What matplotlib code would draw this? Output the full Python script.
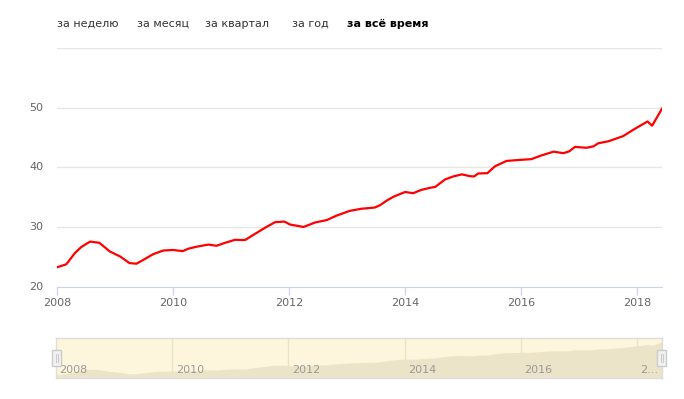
import matplotlib
matplotlib.use("Agg")
import matplotlib.pyplot as plt
import matplotlib.transforms as mtransforms
from matplotlib.patches import Rectangle
from matplotlib.lines import Line2D

# data (fractional year, value)
years = [2008.00, 2008.16, 2008.31, 2008.42, 2008.57, 2008.73, 2008.91, 2009.09,
         2009.25, 2009.37, 2009.49, 2009.66, 2009.83, 2010.00, 2010.17, 2010.26,
         2010.41, 2010.61, 2010.75, 2010.90, 2011.07, 2011.24, 2011.44, 2011.61,
         2011.76, 2011.92, 2012.02, 2012.25, 2012.45, 2012.65, 2012.82, 2013.05,
         2013.25, 2013.48, 2013.57, 2013.69, 2013.80, 2014.00, 2014.14, 2014.28,
         2014.43, 2014.52, 2014.69, 2014.83, 2014.98, 2015.12, 2015.19, 2015.26,
         2015.42, 2015.55, 2015.75, 2015.95, 2016.18, 2016.33, 2016.56, 2016.73,
         2016.83, 2016.93, 2017.13, 2017.25, 2017.33, 2017.51, 2017.76, 2017.94,
         2018.18, 2018.26, 2018.43]
values = [23.3, 23.8, 25.7, 26.7, 27.6, 27.4, 25.95, 25.1,
          24.0, 23.9, 24.55, 25.5, 26.1, 26.2, 26.0, 26.4,
          26.75, 27.1, 26.9, 27.4, 27.9, 27.85, 29.05, 30.05,
          30.85, 30.95, 30.45, 30.05, 30.8, 31.2, 31.95, 32.75,
          33.1, 33.3, 33.7, 34.5, 35.1, 35.9, 35.7, 36.25,
          36.6, 36.75, 38.0, 38.5, 38.85, 38.55, 38.5, 39.0,
          39.05, 40.2, 41.1, 41.25, 41.4, 41.95, 42.65, 42.4,
          42.7, 43.45, 43.3, 43.55, 44.05, 44.4, 45.25, 46.35,
          47.7, 47.0, 49.85]

x_ticks = [2008, 2010, 2012, 2014, 2016, 2018]
y_ticks = [20, 30, 40, 50, 60]
y_labels = ["20", "30", "40", "50", ""]
buttons = ["за неделю", "за месяц", "за квартал", "за год", "за всё время"]
button_x = [57, 137, 205, 292, 347]

W, H = 684, 399
fig = plt.figure(figsize=(W / 100, H / 100), dpi=100)


def px_rect(x0, y0, x1, y1):
    # pixel box (top-left origin) -> figure fraction rect
    return [x0 / W, 1 - y1 / H, (x1 - x0) / W, (y1 - y0) / H]


# range selector buttons
for lbl, bx in zip(buttons, button_x):
    bold = lbl == "за всё время"
    fig.text(bx / W, 1 - 24 / H, lbl, fontsize=8, color="#000000" if bold else "#333333",
             fontweight="bold" if bold else "normal", va="center", ha="left")

# main chart
ax = fig.add_axes(px_rect(57, 48, 662, 287))
ax.plot(years, values, color="#ff0000", lw=1.6, solid_joinstyle="round", zorder=3)
ax.set_xlim(years[0], years[-1])
ax.set_ylim(20, 60)
ax.set_yticks(y_ticks)
ax.set_yticklabels(y_labels)
ax.set_xticks(x_ticks)
ax.grid(axis="y", color="#e6e6e6", lw=1)
for s in ["top", "right", "left"]:
    ax.spines[s].set_visible(False)
ax.spines["bottom"].set_color("#ccd6eb")
ax.tick_params(axis="y", length=0, pad=10, labelsize=8, labelcolor="#666666")
ax.tick_params(axis="x", length=6, color="#ccd6eb", width=1, pad=2,
               labelsize=8, labelcolor="#666666")
for lbl in ax.get_yticklabels():
    lbl.set_verticalalignment("center")

# navigator
nav = fig.add_axes(px_rect(56, 338, 662, 378))
nav.set_facecolor("#fdf6dc")
nav.fill_between(years, 20.5, values, color="#ece4c8", lw=0, zorder=2)
nav.set_xlim(years[0], years[-1])
nav.set_ylim(20.5, 53)
nav.set_xticks([])
nav.set_yticks([])
for s in nav.spines.values():
    s.set_color("#dddddd")
    s.set_linewidth(1)
for xt in x_ticks[1:]:
    nav.axvline(xt, color="#ebe3c6", lw=1, zorder=1)
trans = mtransforms.blended_transform_factory(nav.transData, nav.transAxes)
for xt in x_ticks:
    txt = str(xt) if xt != x_ticks[-1] else "2..."
    nav.text(xt + 0.06, 0.2, txt, transform=trans, fontsize=8, color="#999999",
             ha="left", va="center", zorder=4)

# navigator handles
for hx in (52, 657):
    fig.add_artist(Rectangle((hx / W, 1 - 366 / H), 9 / W, 16 / H, transform=fig.transFigure,
                             facecolor="#f2f2f2", edgecolor="#cccccc", lw=1, zorder=5))
    for gx in (hx + 3.5, hx + 5.5):
        fig.add_artist(Line2D([gx / W, gx / W], [1 - 362 / H, 1 - 354 / H],
                              transform=fig.transFigure, color="#cccccc", lw=0.8, zorder=6))

fig.savefig("out.png", dpi=100, facecolor="white")
